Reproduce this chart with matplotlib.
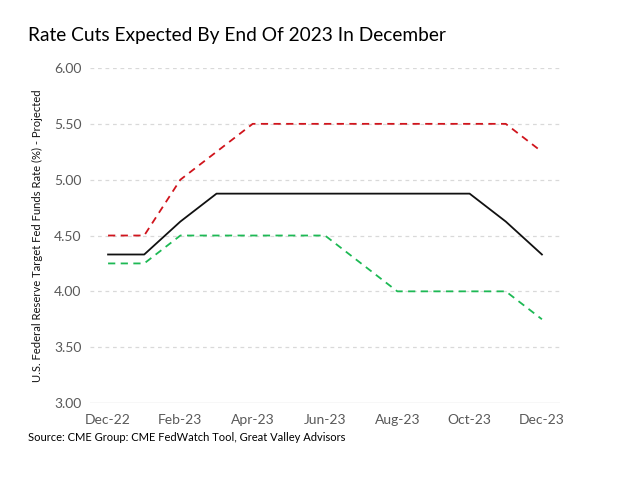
import matplotlib
matplotlib.use("Agg")
import matplotlib.pyplot as plt

months = ["Dec-22", "Jan-23", "Feb-23", "Mar-23", "Apr-23", "May-23", "Jun-23",
          "Jul-23", "Aug-23", "Sep-23", "Oct-23", "Nov-23", "Dec-23"]
upper = [4.50, 4.50, 5.00, 5.25, 5.50, 5.50, 5.50, 5.50, 5.50, 5.50, 5.50, 5.50, 5.25]
mid = [4.33, 4.33, 4.625, 4.875, 4.875, 4.875, 4.875, 4.875, 4.875, 4.875, 4.875, 4.625, 4.33]
lower = [4.25, 4.25, 4.50, 4.50, 4.50, 4.50, 4.50, 4.25, 4.00, 4.00, 4.00, 4.00, 3.75]
yticks = [3.00, 3.50, 4.00, 4.50, 5.00, 5.50, 6.00]

plt.rcParams['font.family'] = ['Lato', 'DejaVu Sans']

fig = plt.figure(figsize=(6.4, 4.8), dpi=100)
ax = fig.add_axes([0.1406, 0.1604, 0.7344, 0.6979])

x = list(range(len(months)))
ax.plot(x, upper, color="#D0141C", lw=1.3, ls=(0, (4, 3)), zorder=3)
ax.plot(x, mid, color="#111111", lw=1.3, zorder=3)
ax.plot(x, lower, color="#1DB954", lw=1.3, ls=(0, (4, 3)), zorder=3)

ax.set_xlim(-0.5, len(months) - 0.5)
ax.set_ylim(3.0, 6.0)
ax.set_yticks(yticks)
ax.set_yticklabels([f"{v:.2f}" for v in yticks])
ax.set_xticks(x[::2])
ax.set_xticklabels(months[::2])

for v in yticks[1:]:
    ax.axhline(v, color="#D9D9D9", lw=0.9, ls=(0, (3, 3)), zorder=1)
ax.axhline(3.0, color="#D9D9D9", lw=1.0, zorder=1)

for s in ax.spines.values():
    s.set_visible(False)
ax.tick_params(axis='both', length=0, labelsize=10, labelcolor="#595959")
ax.tick_params(axis='y', pad=6)
ax.tick_params(axis='x', pad=8)

ax.set_ylabel("U.S. Federal Reserve Target Fed Funds Rate (%) - Projected",
              fontsize=8.1, color="#111111", labelpad=8)

fig.text(0.044, 0.926, "Rate Cuts Expected By End Of 2023 In December",
         fontsize=13.8, color="#000000", va="center", ha="left")
fig.text(0.044, 0.088, "Source: CME Group: CME FedWatch Tool, Great Valley Advisors",
         fontsize=8.0, color="#000000", va="center", ha="left")

fig.savefig("out.png", dpi=100)
